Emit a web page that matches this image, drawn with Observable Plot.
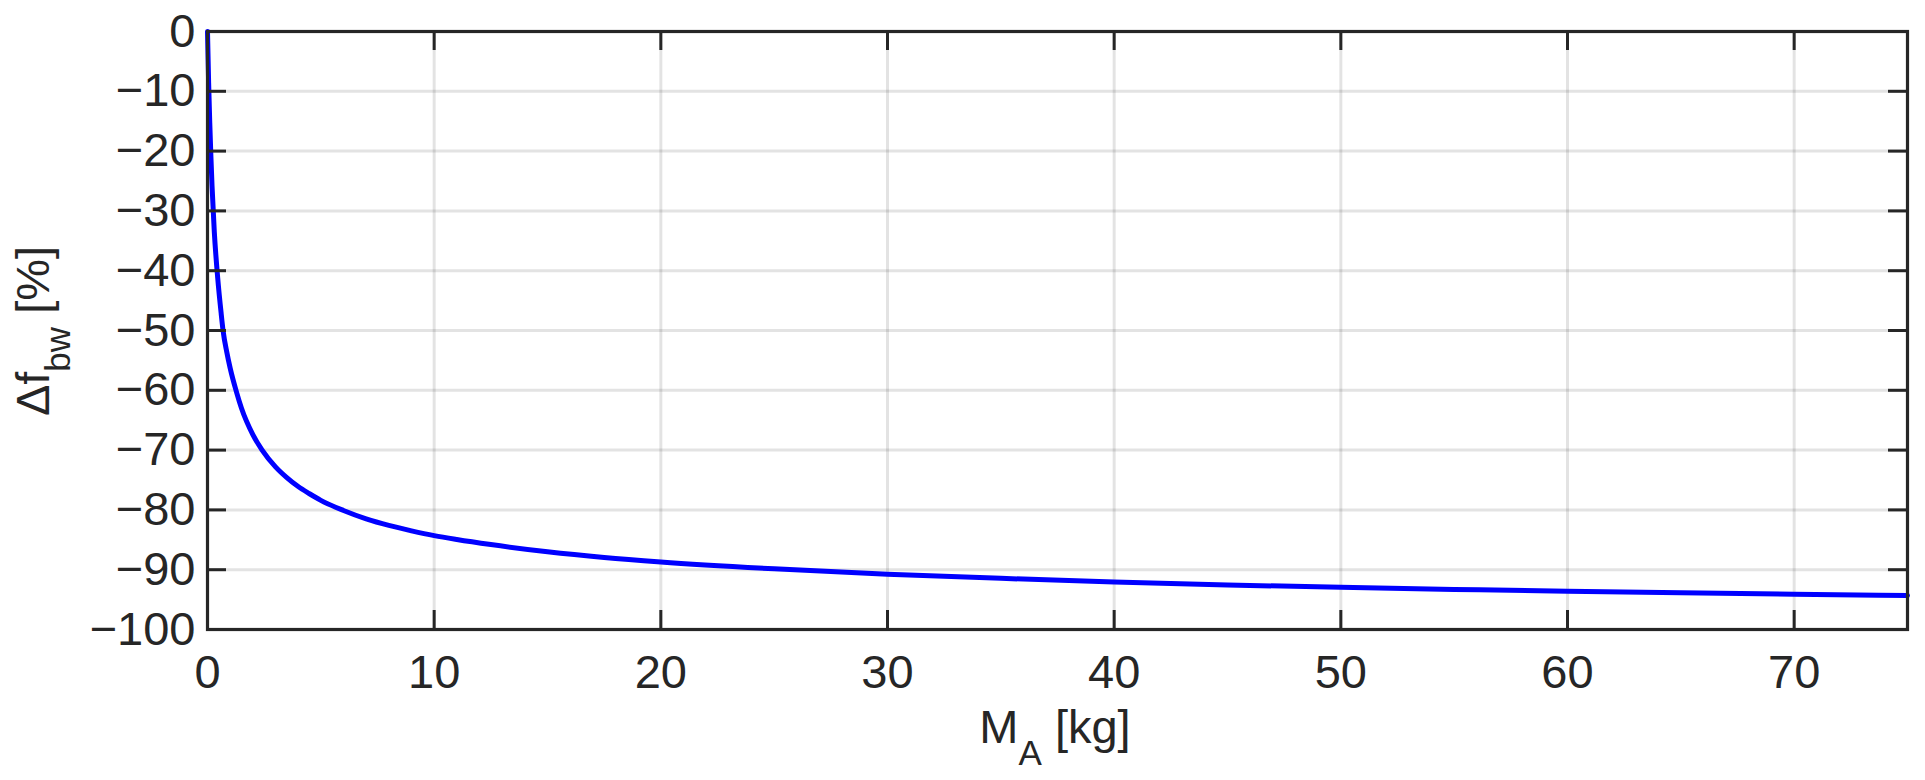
<!DOCTYPE html>
<html>
<head>
<meta charset="utf-8">
<script src="https://cdn.jsdelivr.net/npm/d3@7"></script>
<script src="https://cdn.jsdelivr.net/npm/@observablehq/plot@0.6"></script>
<style>
  html, body { margin: 0; padding: 0; background: #fff; }
  svg { display: block; }
</style>
</head>
<body>
<div id="chart"></div>
<script>
// Added mass M_A [kg] and relative change in bandwidth frequency Δf_bw [%]
const massKg = [0, 0.05, 0.1, 0.15, 0.2, 0.3, 0.45, 0.6, 0.69, 0.85, 1.0, 1.28, 1.5, 2.0, 2.41, 3.0, 3.5, 4.0, 4.5, 5.0, 6.0, 7.0, 8.0, 9.0, 10, 11, 12.5, 15, 17.5, 20, 25, 30, 35, 40, 45, 50, 55, 60, 65, 70, 75];
const deltaFbw = [0, -8.6, -15.3, -20.9, -25.8, -33.5, -41.2, -47.05, -50.1, -53.6, -56.3, -60.3, -63.0, -67.4, -70.0, -72.8, -74.6, -76.1, -77.3, -78.4, -80.1, -81.5, -82.6, -83.5, -84.3, -84.95, -85.8, -87.0, -87.95, -88.7, -89.85, -90.75, -91.45, -92.05, -92.55, -92.95, -93.3, -93.6, -93.85, -94.1, -94.3];

const xTicks = [0, 10, 20, 30, 40, 50, 60, 70];
const yTicks = [0, -10, -20, -30, -40, -50, -60, -70, -80, -90, -100];

const data = massKg.map((m, i) => ({ m, df: deltaFbw[i] }));

const W = 1925, H = 780;
const mL = 207, mR = 18, mT = 31, mB = 151;
const innerW = W - mL - mR, innerH = H - mT - mB;
const tickLen = 19;
const ink = "#262626";
const font = "'Liberation Sans', Arial, Helvetica, sans-serif";
const fs = 47;

const chart = Plot.plot({
  width: W,
  height: H,
  marginLeft: mL,
  marginRight: mR,
  marginTop: mT,
  marginBottom: mB,
  style: { fontFamily: font, fontSize: fs + "px", color: ink, background: "#fff" },
  x: { domain: [0, 75] },
  y: { domain: [-100, 0] },
  marks: [
    Plot.gridX(xTicks, { stroke: "#000", strokeOpacity: 0.11, strokeWidth: 3 }),
    Plot.gridY(yTicks, { stroke: "#000", strokeOpacity: 0.11, strokeWidth: 3 }),
    Plot.line(data, { x: "m", y: "df", stroke: "#0000ff", strokeWidth: 5, curve: "monotone-x" }),
    Plot.tickX(xTicks, { x: d => d, insetTop: innerH - tickLen, stroke: ink, strokeWidth: 3 }),
    Plot.tickX(xTicks, { x: d => d, insetBottom: innerH - tickLen, stroke: ink, strokeWidth: 3 }),
    Plot.tickY(yTicks, { y: d => d, insetRight: innerW - tickLen, stroke: ink, strokeWidth: 3 }),
    Plot.tickY(yTicks, { y: d => d, insetLeft: innerW - tickLen, stroke: ink, strokeWidth: 3 }),
    Plot.frame({ stroke: ink, strokeWidth: 3.2 }),
    Plot.axisX(xTicks, { tickSize: 0, tickPadding: 25, fontSize: fs, fill: ink, label: null }),
    Plot.axisY(yTicks, { tickSize: 0, tickPadding: 12, fontSize: fs, fill: ink, label: null })
  ]
});

document.getElementById("chart").appendChild(chart);

const svg = d3.select(chart);

// y-axis label: Δf_bw [%]
const yl = svg.append("text")
  .attr("transform", "translate(49,331) rotate(-90)")
  .attr("text-anchor", "middle")
  .attr("fill", ink)
  .style("font-family", font)
  .style("font-size", fs + "px");
yl.append("tspan").text("Δf");
yl.append("tspan").attr("dy", 21).style("font-size", "35px").text("bw");
yl.append("tspan").attr("dy", -21).style("font-size", fs + "px").text(" [%]");

// x-axis label: M_A [kg]
const xl = svg.append("text")
  .attr("x", 1055)
  .attr("y", 743)
  .attr("text-anchor", "middle")
  .attr("fill", ink)
  .style("font-family", font)
  .style("font-size", fs + "px");
xl.append("tspan").text("M");
xl.append("tspan").attr("dy", 22).style("font-size", "35px").text("A");
xl.append("tspan").attr("dy", -22).style("font-size", fs + "px").text(" [kg]");
</script>
</body>
</html>
